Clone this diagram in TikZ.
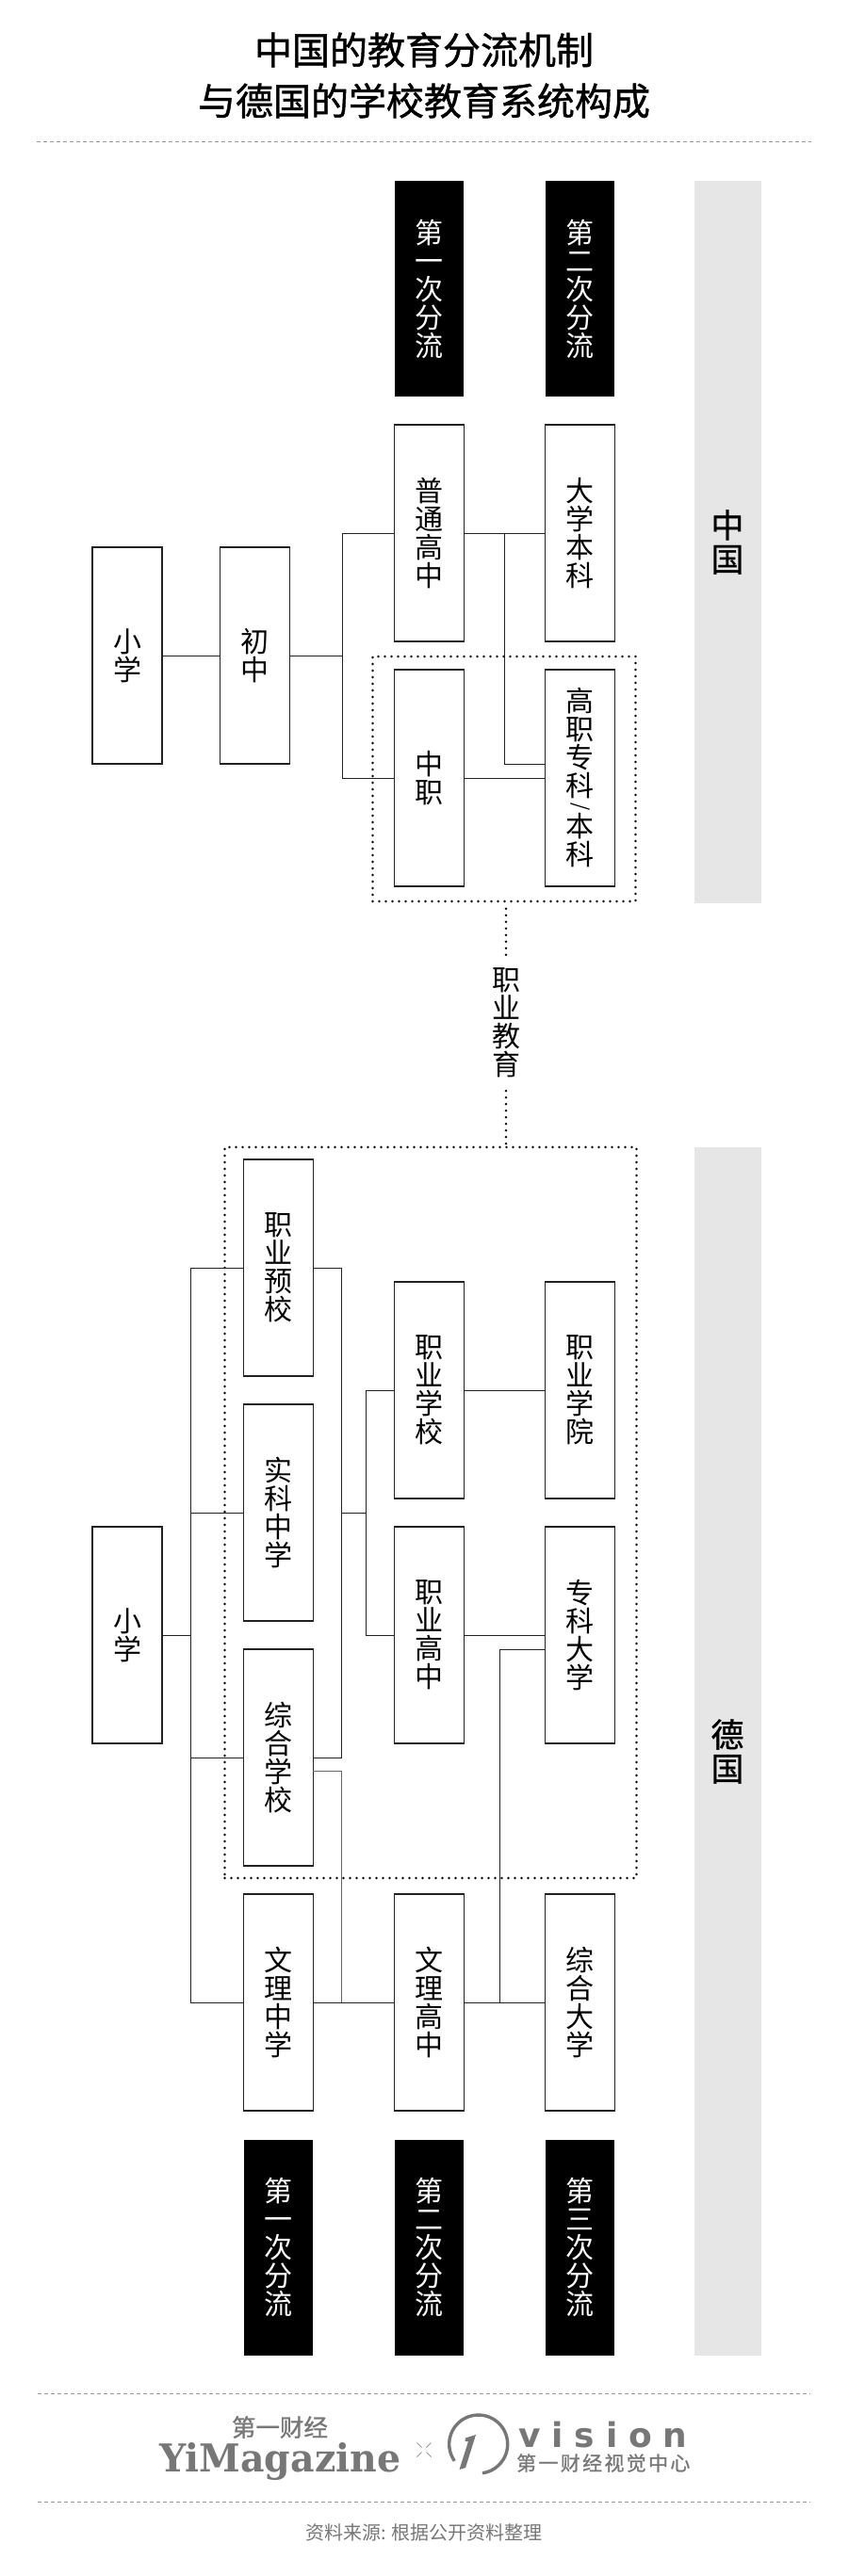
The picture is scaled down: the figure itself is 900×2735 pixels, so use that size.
\documentclass[tikz,border=0pt]{standalone}
\usepackage{fontspec}
\usepackage{graphicx}
\setmainfont{Noto Sans CJK SC}
\newfontfamily\semibold{Noto Sans CJK SC}[FakeBold=1]
\newfontfamily\serifbold{DejaVu Serif}[BoldFont={DejaVu Serif Bold}]
\newfontfamily\visionfont{DejaVu Sans}[BoldFont={DejaVu Sans Bold}]
\newcommand{\noskip}{\lineskiplimit-50pt\relax}
\newcommand{\vslash}{\raisebox{15.4pt}{\rotatebox{-90}{\fontsize{21}{21}\selectfont /}}}
\definecolor{logogray}{HTML}{777777}
\definecolor{bandgray}{HTML}{E6E6E6}
\definecolor{rulegray}{HTML}{999999}
\definecolor{linedark}{HTML}{222222}
\definecolor{linemid}{HTML}{666666}
\tikzset{
  x=1pt,y=-1pt,
  boxfont/.style={font=\fontsize{30}{30}\selectfont\noskip},
  sbox/.style={draw=linedark,line width=1.1pt,fill=white,minimum width=74pt,minimum height=230pt,inner sep=0pt,align=center,boxfont},
  blk/.style={fill=black,text=white,minimum width=73pt,minimum height=229pt,inner sep=0pt,align=center,boxfont},
  band/.style={fill=bandgray,minimum width=71pt,inner sep=0pt,align=center,font=\fontsize{35}{36}\selectfont\semibold\noskip},
  conn/.style={draw=linedark,line width=1pt},
  connmid/.style={draw=linemid,line width=1pt},
  dotline/.style={draw=black,line width=2.8pt,line cap=round,dash pattern=on 0pt off 7pt},
  rule/.style={draw=rulegray,line width=1pt,dash pattern=on 4pt off 3pt},
  lbl/.style={inner sep=0pt,align=center,boxfont},
}
\begin{document}
\begin{tikzpicture}
\useasboundingbox (0,0) rectangle (900,2735);
\fill[white] (0,0) rectangle (900,2735);

% title and rules
\node[inner sep=0pt,align=center,font=\fontsize{40}{54}\selectfont\semibold\noskip] (title) at (450,80) {中国的教育分流机制\\与德国的学校教育系统构成};
\coordinate (r1a) at (39,150.5); \coordinate (r1b) at (861,150.5);
\coordinate (r2a) at (40,2541.5); \coordinate (r2b) at (860,2541.5);
\coordinate (r3a) at (40,2656.5); \coordinate (r3b) at (860,2656.5);
\draw[rule] (r1a) -- (r1b);
\draw[rule] (r2a) -- (r2b);
\draw[rule] (r3a) -- (r3b);

% country bands
\node[band,minimum height=767pt] (cn) at (772,575.5) {中\\国};
\node[band,minimum height=1283pt] (de) at (772,1859.5) {德\\国};

% dotted groups
\node[dotline,minimum width=279pt,minimum height=260pt,inner sep=0pt] (cdot) at (535,827) {};
\node[dotline,minimum width=437pt,minimum height=776pt,inner sep=0pt] (ddot) at (457,1606) {};
\node[lbl,minimum width=30pt,minimum height=144pt] (voc) at (537,1086) {职\\业\\教\\育};
\draw[dotline] (voc.north) -- (voc.north |- cdot.south);
\draw[dotline] (voc.south) -- (voc.south |- ddot.north);

% bus coordinates
\coordinate (cbus) at (363.4,696);
\coordinate (cj) at (535.6,566);
\coordinate (gzin) at (578.5,811);
\coordinate (dbusL) at (202.6,1736);
\coordinate (dbusR) at (362,1606);
\coordinate (dbusM) at (388.6,1606);
\coordinate (zhOut) at (332.4,1880);
\coordinate (wlj) at (362,2126);
\coordinate (dhj) at (530.4,2126);
\coordinate (zkin) at (578.5,1751);

% China connectors
\node[sbox] (cxiao) at (135,696) {小\\学};
\node[sbox] (cchu) at (270.6,696) {初\\中};
\node[sbox] (cpu) at (455.5,566) {普\\通\\高\\中};
\node[sbox] (cda) at (615.5,566) {大\\学\\本\\科};
\node[sbox] (czz) at (455.5,826) {中\\职};
\node[sbox] (cgz) at (615.5,826) {高\\职\\专\\科\\[-8pt]\vslash\\[-9pt]本\\科};
\draw[conn] (cxiao.east) -- (cchu.west);
\draw[conn] (cchu.east) -- (cbus);
\draw[conn] (cpu.west) -| (cbus) |- (czz.west);
\draw[conn] (cpu.east) -- (cda.west);
\draw[conn] (cj) |- (gzin);
\draw[conn] (czz.east) -- (cgz.west);

% China headers
\node[blk] (ch1) at (455.5,306.5) {第\\一\\次\\分\\流};
\node[blk] (ch2) at (615.5,306.5) {第\\二\\次\\分\\流};

% Germany boxes
\node[sbox] (dxiao) at (135,1736) {小\\学};
\node[sbox] (dyx) at (295.4,1346) {职\\业\\预\\校};
\node[sbox] (dsk) at (295.4,1606) {实\\科\\中\\学};
\node[sbox] (dzh) at (295.4,1866) {综\\合\\学\\校};
\node[sbox] (dwz) at (295.4,2126) {文\\理\\中\\学};
\node[sbox] (dzx) at (455.5,1476) {职\\业\\学\\校};
\node[sbox] (dzg) at (455.5,1736) {职\\业\\高\\中};
\node[sbox] (dwg) at (455.5,2126) {文\\理\\高\\中};
\node[sbox] (dzy) at (615.5,1476) {职\\业\\学\\院};
\node[sbox] (dzk) at (615.5,1736) {专\\科\\大\\学};
\node[sbox] (dzd) at (615.5,2126) {综\\合\\大\\学};

% Germany connectors
\draw[conn] (dxiao.east) -- (dbusL);
\draw[conn] (dyx.west) -| (dbusL);
\draw[conn] (dwz.west) -| (dbusL);
\draw[conn] (dsk.west) -| (dbusL);
\draw[conn] (dzh.west) -| (dbusL);
\draw[conn] (dyx.east) -| (dbusR);
\draw[conn] (dzh.east) -| (dbusR);
\draw[conn] (dbusR) -- (dbusM);
\draw[conn] (dzx.west) -| (dbusM);
\draw[conn] (dzg.west) -| (dbusM);
\draw[conn] (dzx.east) -- (dzy.west);
\draw[conn] (dzg.east) -- (dzk.west);
\draw[connmid] (zhOut) -| (wlj);
\draw[conn] (dwz.east) -- (dwg.west);
\draw[conn] (dwg.east) -- (dzd.west);
\draw[conn] (dhj) |- (zkin);

% Germany footers
\node[blk] (df1) at (295.2,2386) {第\\一\\次\\分\\流};
\node[blk] (df2) at (455.5,2386) {第\\二\\次\\分\\流};
\node[blk] (df3) at (615.5,2386) {第\\三\\次\\分\\流};

% logos
\node[text=logogray,inner sep=0pt,font=\fontsize{25.5}{26}\selectfont\semibold] (cjn) at (297,2577) {第一财经};
\node[text=logogray,inner sep=0pt,anchor=base west,font=\fontsize{40}{42}\selectfont\serifbold\bfseries] (yim) at (169,2624) {\resizebox{256pt}{31pt}{YiMagazine}};
\foreach \sx/\sy in {1/1,1/-1,-1/1,-1/-1}{
  \draw[draw=rulegray,line width=1pt] (450+\sx*2.5,2601+\sy*2.5) -- (450+\sx*7.5,2601+\sy*7.5);
}
\draw[draw=logogray,line width=3.4pt] (507.7,2595) ++(82:31) arc[start angle=82,end angle=-215,radius=31];
\fill[logogray] (505,2585) -- (494,2620) -- (487.5,2622) -- (497,2592) -- (493.5,2592) -- (494,2588.5) -- cycle;
\node[text=logogray,inner sep=0pt,anchor=base west,font=\fontsize{36}{38}\selectfont\visionfont\bfseries\addfontfeature{LetterSpace=33}] (vis) at (550,2598) {vision};
\node[text=logogray,inner sep=0pt,anchor=west,font=\fontsize{21}{22}\selectfont\semibold\addfontfeature{LetterSpace=11}] (vcn) at (548,2615) {第一财经视觉中心};
\node[text=logogray,inner sep=0pt,font=\fontsize{20}{22}\selectfont] (src) at (450,2689) {资料来源: 根据公开资料整理};
\end{tikzpicture}
\end{document}
